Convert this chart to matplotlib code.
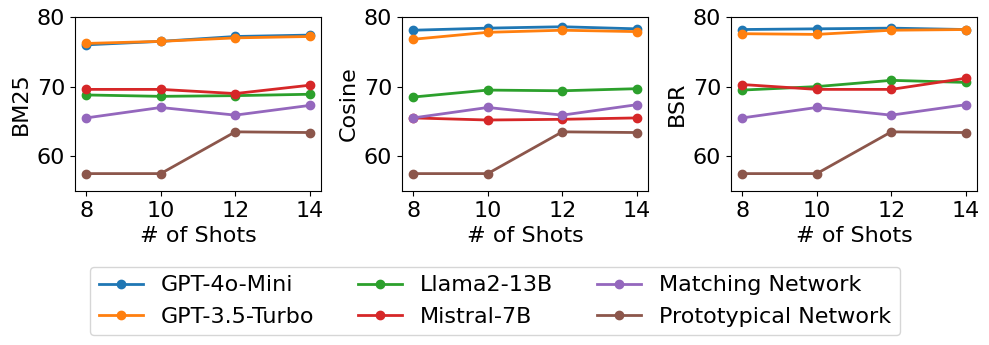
import matplotlib
matplotlib.use("Agg")
import matplotlib.pyplot as plt

shots = [8, 10, 12, 14]
series_names = ["GPT-4o-Mini", "GPT-3.5-Turbo", "Llama2-13B", "Mistral-7B",
                "Matching Network", "Prototypical Network"]
colors = ["#1f77b4", "#ff7f0e", "#2ca02c", "#d62728", "#9467bd", "#8c564b"]

bm25_gpt4o = [76.0, 76.5, 77.2, 77.4]
bm25_gpt35 = [76.2, 76.5, 77.0, 77.2]
bm25_llama = [68.8, 68.6, 68.7, 68.9]
bm25_mistral = [69.6, 69.6, 69.0, 70.2]
bm25_matching = [65.5, 67.0, 65.9, 67.3]
bm25_proto = [57.5, 57.5, 63.5, 63.4]

cos_gpt4o = [78.1, 78.4, 78.6, 78.3]
cos_gpt35 = [76.8, 77.8, 78.1, 77.9]
cos_llama = [68.5, 69.5, 69.4, 69.7]
cos_mistral = [65.5, 65.2, 65.3, 65.5]
cos_matching = [65.5, 67.0, 65.9, 67.4]
cos_proto = [57.5, 57.5, 63.5, 63.4]

bsr_gpt4o = [78.2, 78.3, 78.4, 78.2]
bsr_gpt35 = [77.6, 77.5, 78.1, 78.2]
bsr_llama = [69.5, 70.0, 70.9, 70.6]
bsr_mistral = [70.3, 69.6, 69.6, 71.2]
bsr_matching = [65.5, 67.0, 65.9, 67.4]
bsr_proto = [57.5, 57.5, 63.5, 63.4]

panels = [
    ("BM25", [bm25_gpt4o, bm25_gpt35, bm25_llama, bm25_mistral, bm25_matching, bm25_proto]),
    ("Cosine", [cos_gpt4o, cos_gpt35, cos_llama, cos_mistral, cos_matching, cos_proto]),
    ("BSR", [bsr_gpt4o, bsr_gpt35, bsr_llama, bsr_mistral, bsr_matching, bsr_proto]),
]

plt.rcParams['font.size'] = 16
fig = plt.figure(figsize=(9.89, 3.45), dpi=100)
W, H = 989, 345
lefts = [75, 402, 731]
aw = 246
top, bottom = 17, 191
handles = []
for i, (ylabel, data) in enumerate(panels):
    ax = fig.add_axes([lefts[i] / W, 1 - bottom / H, aw / W, (bottom - top) / H])
    for name, vals, c in zip(series_names, data, colors):
        h, = ax.plot(shots, vals, marker='o', color=c, linewidth=2, markersize=6, label=name)
        if i == 0:
            handles.append(h)
    ax.set_ylim(55, 80)
    ax.set_yticks([60, 70, 80])
    ax.set_xticks(shots)
    ax.set_xlabel("# of Shots")
    ax.set_ylabel(ylabel)

fig.legend(handles=handles, loc='center', ncol=3, bbox_to_anchor=(495 / W, 1 - 301 / H),
           frameon=True, fontsize=16, handlelength=2, columnspacing=1.95)
fig.savefig("out.png", dpi=100)
